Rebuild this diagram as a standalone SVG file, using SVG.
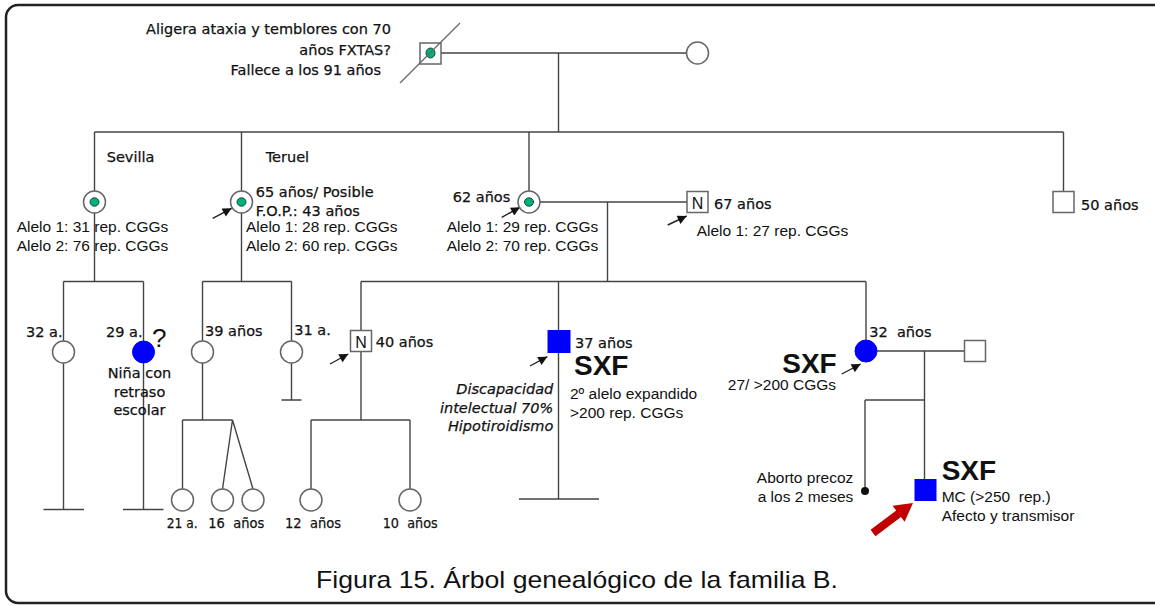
<svg xmlns="http://www.w3.org/2000/svg" width="1155" height="606" viewBox="0 0 1155 606">
<style>
.ln{stroke:#444;stroke-width:1.4;fill:none}
.sh{fill:#fff;stroke:#666;stroke-width:1.5}
.dot{fill:#00b07e;stroke:#1a4a3a;stroke-width:1}
.blue{fill:#0000ff;stroke:#0000ff;stroke-width:1}
.h{font-family:"DejaVu Sans",sans-serif;font-size:14.5px;fill:#111;stroke:#111;stroke-width:0.25;white-space:pre}
.hi{font-family:"DejaVu Sans",sans-serif;font-size:14.5px;font-style:italic;fill:#111;stroke:#111;stroke-width:0.25}
.a{font-family:"Liberation Sans",Arial,sans-serif;font-size:15.5px;fill:#111;white-space:pre}
.b{font-family:"Liberation Sans",Arial,sans-serif;font-size:28px;font-weight:bold;fill:#111}
.ar{stroke:#222;stroke-width:1.4;fill:none;marker-end:url(#ah)}
.n{font-family:"Liberation Sans",Arial,sans-serif;font-size:16px;fill:#111;text-anchor:middle}
</style>
<defs>
<marker id="ah" markerUnits="userSpaceOnUse" markerWidth="10" markerHeight="9" viewBox="0 0 10 10" refX="10" refY="5" orient="auto">
<path d="M0,0 L10,5 L0,10 z" fill="#111"/>
</marker>
</defs>
<rect x="6" y="5" width="1170" height="598" rx="12" fill="#fff" stroke="#222" stroke-width="2.5"/>

<g id="connectors">
<path class="ln" d="M441,53 H686.5 M558.5,53 V132 M94.5,132 H1063.5 M94.5,132 V191 M241.5,132 V191 M529,132 V191 M1063.5,132 V191.5"/>
<path class="ln" d="M94.5,213 V281.5 M63.5,281.5 H143.5 M63.5,281.5 V341 M143.5,281.5 V341 M63.5,363 V509.5 M43.5,509.5 H84 M143.5,363 V509.5 M123,509.5 H163.5"/>
<path class="ln" d="M241.5,213 V281.5 M202.5,281.5 H291.5 M202.5,281.5 V341 M291.5,281.5 V341 M202.5,363 V420 M182.5,420 H232.5 M182.5,420 V489 M232.5,420 L222.5,489 M232.5,420 L253,489 M291.5,363 V400 M281.5,400 H301.5"/>
<path class="ln" d="M540,202 H687 M607.5,202 V281.5 M361,281.5 H866 M361,281.5 V330.5 M558.5,281.5 V330.5 M866,281.5 V340 M361,351.5 V420 M311,420 H410 M311,420 V489 M410,420 V489 M558.5,352.5 V499 M519,499 H599"/>
<path class="ln" d="M877,351 H964.5 M924.5,351 V479.5 M865,400 H924.5 M865,400 V487"/>
</g>

<g id="arrows">
<line class="ar" x1="212.7" y1="218.3" x2="231.7" y2="208.3"/>
<line class="ar" x1="501.7" y1="217.3" x2="520" y2="207.3"/>
<line class="ar" x1="667.7" y1="225" x2="686.7" y2="216"/>
<line class="ar" x1="330" y1="364" x2="348.3" y2="354"/>
<line class="ar" x1="530" y1="366" x2="547.3" y2="356.7"/>
<line class="ar" x1="841.7" y1="374" x2="860.7" y2="364"/>
<polygon points="870.6,529.8 896.2,510.6 892.6,505.8 913,503 904.6,521.8 901,517 875.4,536.2" fill="#c00000"/>
</g>

<g id="grandfather">
<rect class="sh" x="420" y="43" width="21" height="21"/>
<ellipse class="dot" cx="430.5" cy="53" rx="4.5" ry="5"/>
<line x1="400" y1="83" x2="460" y2="23" stroke="#666" stroke-width="1.3"/>
<text class="h" x="391" y="34" text-anchor="end">Aligera ataxia y temblores con 70</text>
<text class="h" x="391" y="55" text-anchor="end">años FXTAS?</text>
<text class="h" x="381" y="75" text-anchor="end">Fallece a los 91 años</text>
</g>
<g id="grandmother"><circle class="sh" cx="697.5" cy="53" r="11"/></g>

<g id="sevilla">
<circle class="sh" cx="94.5" cy="202" r="11"/>
<ellipse class="dot" cx="94.5" cy="202" rx="4.5" ry="4.2"/>
<text class="h" x="106.7" y="162">Sevilla</text>
<text class="a" x="16.7" y="231.7">Alelo 1: 31 rep. CGGs</text>
<text class="a" x="16.7" y="250.7">Alelo 2: 76 rep. CGGs</text>
</g>
<g id="teruel">
<circle class="sh" cx="241.5" cy="202" r="11"/>
<ellipse class="dot" cx="241.5" cy="202" rx="4.5" ry="4.2"/>
<text class="h" x="265.7" y="162">Teruel</text>
<text class="h" x="255.7" y="196.7">65 años/ Posible</text>
<text class="h" x="255.7" y="216">F.O.P.: 43 años</text>
<text class="a" x="246" y="231.7">Alelo 1: 28 rep. CGGs</text>
<text class="a" x="246" y="250.7">Alelo 2: 60 rep. CGGs</text>
</g>
<g id="mother62">
<circle class="sh" cx="529" cy="202" r="11"/>
<ellipse class="dot" cx="529" cy="202" rx="4.5" ry="4.2"/>
<text class="h" x="452.7" y="202.3">62 años</text>
<text class="a" x="446.7" y="231.7">Alelo 1: 29 rep. CGGs</text>
<text class="a" x="446.7" y="250.7">Alelo 2: 70 rep. CGGs</text>
</g>
<g id="father67">
<rect class="sh" x="687" y="191.5" width="21" height="21"/>
<text class="n" x="697.5" y="208.5">N</text>
<text class="h" x="714" y="209">67 años</text>
<text class="a" x="696.7" y="235.7">Alelo 1: 27 rep. CGGs</text>
</g>
<g id="uncle50">
<rect class="sh" x="1053" y="191.5" width="21" height="21"/>
<text class="h" x="1081" y="210">50 años</text>
</g>

<g id="f32a"><circle class="sh" cx="63.5" cy="352" r="11"/><text class="h" x="26" y="337">32 a.</text></g>
<g id="f29a">
<circle class="blue" cx="143.5" cy="352" r="11"/>
<text class="h" x="106" y="337">29 a.</text>
<text x="152" y="347" font-family="Liberation Sans,Arial,sans-serif" font-size="26" fill="#111">?</text>
<text class="h" x="139.5" y="378" text-anchor="middle">Niña con</text>
<text class="h" x="139.5" y="396.7" text-anchor="middle">retraso</text>
<text class="h" x="139.5" y="415" text-anchor="middle">escolar</text>
</g>
<g id="f39"><circle class="sh" cx="202.5" cy="352" r="11"/><text class="h" x="205" y="336">39 años</text></g>
<g id="f31a"><circle class="sh" cx="291.5" cy="352" r="11"/><text class="h" x="294.3" y="335">31 a.</text></g>
<g id="m40">
<rect class="sh" x="350.5" y="330.5" width="21" height="21"/>
<text class="n" x="361" y="347.5">N</text>
<text class="h" x="375.7" y="346.7">40 años</text>
</g>
<g id="m37">
<rect class="blue" x="548" y="330.5" width="22" height="22"/>
<text class="h" x="575" y="347.7">37 años</text>
<text class="b" x="574" y="375">SXF</text>
<text class="a" x="570" y="399.3">2º alelo expandido</text>
<text class="a" x="570" y="418.3">&gt;200 rep. CGGs</text>
<text class="hi" x="553.3" y="394" text-anchor="end">Discapacidad</text>
<text class="hi" x="553.3" y="413.3" text-anchor="end">intelectual 70%</text>
<text class="hi" x="553.3" y="431" text-anchor="end">Hipotiroidismo</text>
</g>
<g id="f32">
<circle class="blue" cx="866" cy="351" r="11"/>
<text class="h" x="869.3" y="336.7">32  años</text>
<text class="b" x="836.7" y="372.7" text-anchor="end">SXF</text>
<text class="a" x="836" y="390" text-anchor="end">27/ &gt;200 CGGs</text>
</g>
<g id="spouse32"><rect class="sh" x="964.5" y="340.5" width="21" height="21"/></g>

<g id="c21"><circle class="sh" cx="182.5" cy="500" r="11"/><text class="h" x="166.7" y="528" textLength="31" lengthAdjust="spacingAndGlyphs">21 a.</text></g>
<g id="c16a"><circle class="sh" cx="222.5" cy="500" r="11"/><text class="h" x="208.3" y="528" textLength="56" lengthAdjust="spacingAndGlyphs">16  años</text></g>
<g id="c16b"><circle class="sh" cx="253" cy="500" r="11"/></g>
<g id="c12"><circle class="sh" cx="311" cy="500" r="11"/><text class="h" x="285" y="528" textLength="56" lengthAdjust="spacingAndGlyphs">12  años</text></g>
<g id="c10"><circle class="sh" cx="410" cy="500" r="11"/><text class="h" x="382.7" y="528" textLength="55" lengthAdjust="spacingAndGlyphs">10  años</text></g>
<g id="aborto">
<circle cx="865" cy="491" r="4" fill="#111"/>
<text class="a" x="853.3" y="483.3" text-anchor="end">Aborto precoz</text>
<text class="a" x="853.3" y="501.7" text-anchor="end">a los 2 meses</text>
</g>
<g id="proband">
<rect class="blue" x="915" y="479.5" width="21" height="21"/>
<text class="b" x="941.7" y="480">SXF</text>
<text class="a" x="941.7" y="501.7">MC (&gt;250  rep.)</text>
<text class="a" x="941.7" y="521">Afecto y transmisor</text>
</g>

<text x="577" y="588" text-anchor="middle" font-family="Liberation Sans,Arial,sans-serif" font-size="24" fill="#111" textLength="522" lengthAdjust="spacingAndGlyphs">Figura 15. Árbol genealógico de la familia B.</text>
</svg>
